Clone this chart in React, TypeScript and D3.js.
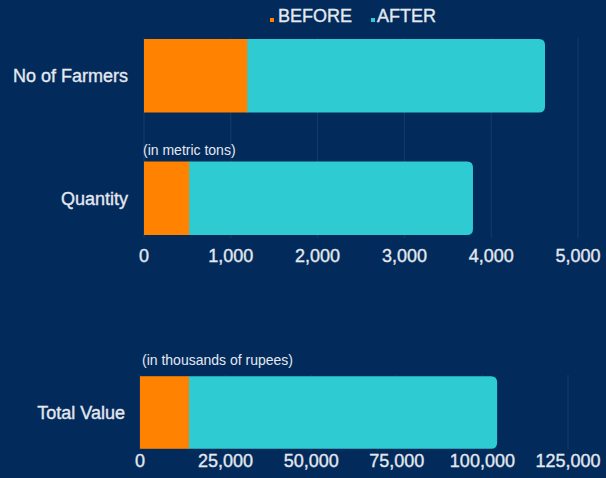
import React from "react";
import * as d3 from "d3";

const topCategories = ["No of Farmers", "Quantity"];
const topBefore = [1190, 520];
const topAfter = [3430, 3270];
const topTicks = [0, 1000, 2000, 3000, 4000, 5000];

const bottomCategories = ["Total Value"];
const bottomBefore = [14300];
const bottomAfter = [90000];
const bottomTicks = [0, 25000, 50000, 75000, 100000, 125000];

const seriesNames = ["BEFORE", "AFTER"];
const seriesColors = ["#ff8200", "#2ecbd2"];
const subtitles = ["(in metric tons)", "(in thousands of rupees)"];

const W = 606;
const H = 478;
const BG = "#022b5c";
const GRID = "#1b3b69";
const TEXT = "#e4e8ef";
const FONT = "'Liberation Sans', Arial, sans-serif";
const fmt = d3.format(",");
const textStyle = { stroke: TEXT, strokeWidth: 0.35 };

function roundRight(x0: number, x1: number, y: number, h: number, r: number) {
  const rr = Math.min(r, (x1 - x0) / 2, h / 2);
  return `M${x0},${y}H${x1 - rr}Q${x1},${y} ${x1},${y + rr}V${y + h - rr}Q${x1},${y + h} ${x1 - rr},${y + h}H${x0}Z`;
}

function Panel(props: {
  cats: string[];
  before: number[];
  after: number[];
  ticks: number[];
  x: d3.ScaleLinear<number, number>;
  y: d3.ScaleBand<string>;
  gridTop: number;
  gridBottom: number;
  tickY: number;
  labelX: number;
}) {
  const { cats, before, after, ticks, x, y, gridTop, gridBottom, tickY, labelX } = props;
  return (
    <g>
      {ticks.map((t) => (
        <line key={"g" + t} x1={x(t)} x2={x(t)} y1={gridTop} y2={gridBottom} stroke={GRID} strokeWidth={1} />
      ))}
      {cats.map((c, i) => {
        const y0 = y(c) as number;
        const h = y.bandwidth();
        const b = before[i];
        const total = b + after[i];
        return (
          <g key={c}>
            <path d={roundRight(x(b) - 0.5, x(total), y0, h, 6)} fill={seriesColors[1]} />
            <rect x={x(0)} y={y0} width={x(b) - x(0)} height={h} fill={seriesColors[0]} />
            <text
              x={labelX}
              y={y0 + h / 2}
              dy="0.35em"
              textAnchor="end"
              fill={TEXT}
              fontSize={18}
              fontFamily={FONT}
              style={textStyle}
            >
              {c}
            </text>
          </g>
        );
      })}
      {ticks.map((t) => (
        <text
          key={"t" + t}
          x={x(t)}
          y={tickY}
          textAnchor="middle"
          fill={TEXT}
          fontSize={18}
          fontFamily={FONT}
          style={textStyle}
        >
          {fmt(t)}
        </text>
      ))}
    </g>
  );
}

export default function App() {
  const xTop = d3.scaleLinear().domain([0, 5000]).range([144, 578]);
  const yTop = d3.scaleBand<string>().domain(topCategories).range([14.5, 259.5]).paddingInner(0.4).paddingOuter(0.2);

  const xBot = d3.scaleLinear().domain([0, 125000]).range([140, 568]);
  const yBot = d3.scaleBand<string>().domain(bottomCategories).range([352, 473]).paddingInner(0.4).paddingOuter(0.2);

  return (
    <svg width={W} height={H} style={{ position: "absolute", left: 0, top: 0, display: "block" }}>
      <rect x={0} y={0} width={W} height={H} fill={BG} />
      {/* legend */}
      <rect x={270} y={18} width={4} height={4} fill={seriesColors[0]} />
      <text x={278} y={22} fill={TEXT} fontSize={18} fontFamily={FONT} style={textStyle}>
        {seriesNames[0]}
      </text>
      <rect x={371} y={18} width={4} height={4} fill={seriesColors[1]} />
      <text x={377} y={22} fill={TEXT} fontSize={18} fontFamily={FONT} style={textStyle}>
        {seriesNames[1]}
      </text>

      <Panel
        cats={topCategories}
        before={topBefore}
        after={topAfter}
        ticks={topTicks}
        x={xTop}
        y={yTop}
        gridTop={38}
        gridBottom={238}
        tickY={262}
        labelX={128}
      />
      <text x={143} y={155} fill={TEXT} fontSize={14} fontFamily={FONT}>
        {subtitles[0]}
      </text>

      <Panel
        cats={bottomCategories}
        before={bottomBefore}
        after={bottomAfter}
        ticks={bottomTicks}
        x={xBot}
        y={yBot}
        gridTop={375}
        gridBottom={449}
        tickY={467}
        labelX={125}
      />
      <text x={142} y={365} fill={TEXT} fontSize={14} fontFamily={FONT}>
        {subtitles[1]}
      </text>
    </svg>
  );
}
